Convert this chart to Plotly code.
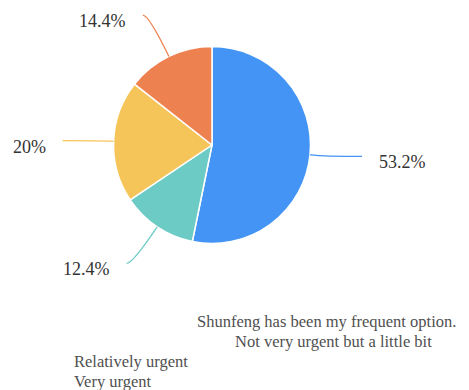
import math
import plotly.graph_objects as go

# Survey answers (clockwise from 12 o'clock)
categories = [
    "Shunfeng has been my frequent option.",
    "Not very urgent but a little bit",
    "Relatively urgent",
    "Very urgent",
]
shares = [53.2, 12.4, 20.0, 14.4]
slice_labels = ["53.2%", "12.4%", "20%", "14.4%"]
colors = ["#4394f5", "#6ccbc5", "#f6c55a", "#ee8150"]

W, H = 469, 390
CX, CY, R = 212.0, 145.0, 98.5
SERIF = "Liberation Serif"

# leader line geometry per slice: radial length, horizontal length
leader_len1 = [15, 44, 15, 46]
leader_len2 = [37, 6, 36, 6]


def px(x):
    return x / W


def py(y):
    return 1 - y / H


fig = go.Figure()

fig.add_trace(go.Pie(
    values=shares,
    labels=categories,
    marker=dict(colors=colors, line=dict(color="white", width=1.5)),
    sort=False,
    direction="clockwise",
    rotation=0,
    textinfo="none",
    hoverinfo="skip",
    showlegend=False,
    domain=dict(x=[px(CX - R), px(CX + R)], y=[py(CY + R), py(CY - R)]),
))

total = sum(shares)
cum = 0.0
for val, lab, col, l1, l2 in zip(shares, slice_labels, colors, leader_len1, leader_len2):
    mid = (cum + val / 2) / total * 2 * math.pi
    cum += val
    dx, dy = math.sin(mid), -math.cos(mid)
    x0, y0 = CX + R * dx, CY + R * dy
    x1, y1 = CX + (R + l1) * dx, CY + (R + l1) * dy
    side = 1 if dx >= 0 else -1
    x2, y2 = x1 + side * l2, y1
    # curved leader line from the slice edge to its label
    fig.add_shape(
        type="path", xref="paper", yref="paper",
        path=(f"M {px(x0):.5f},{py(y0):.5f} "
              f"Q {px(x1):.5f},{py(y1):.5f} {px(x2):.5f},{py(y2):.5f}"),
        line=dict(color=col, width=1.3),
    )
    fig.add_annotation(
        x=px(x2 + side * 15), y=py(y2 + 6), xref="paper", yref="paper",
        text=lab, showarrow=False,
        xanchor="left" if side > 0 else "right", yanchor="middle",
        font=dict(family=SERIF, size=18, color="#333333"),
    )

# category names listed below the chart
legend_pos = [(326, 321, "center"), (333, 341, "center"), (72, 361, "left"), (72, 381, "left")]
for name, (lx, ly, anchor) in zip(categories, legend_pos):
    fig.add_annotation(
        x=px(lx), y=py(ly), xref="paper", yref="paper", text=name, showarrow=False,
        xanchor=anchor, yanchor="middle",
        font=dict(family=SERIF, size=16.5, color="#505050"),
    )

fig.update_layout(
    width=W, height=H,
    margin=dict(l=0, r=0, t=0, b=0),
    paper_bgcolor="white",
    showlegend=False,
)

fig.write_html("out.html")
